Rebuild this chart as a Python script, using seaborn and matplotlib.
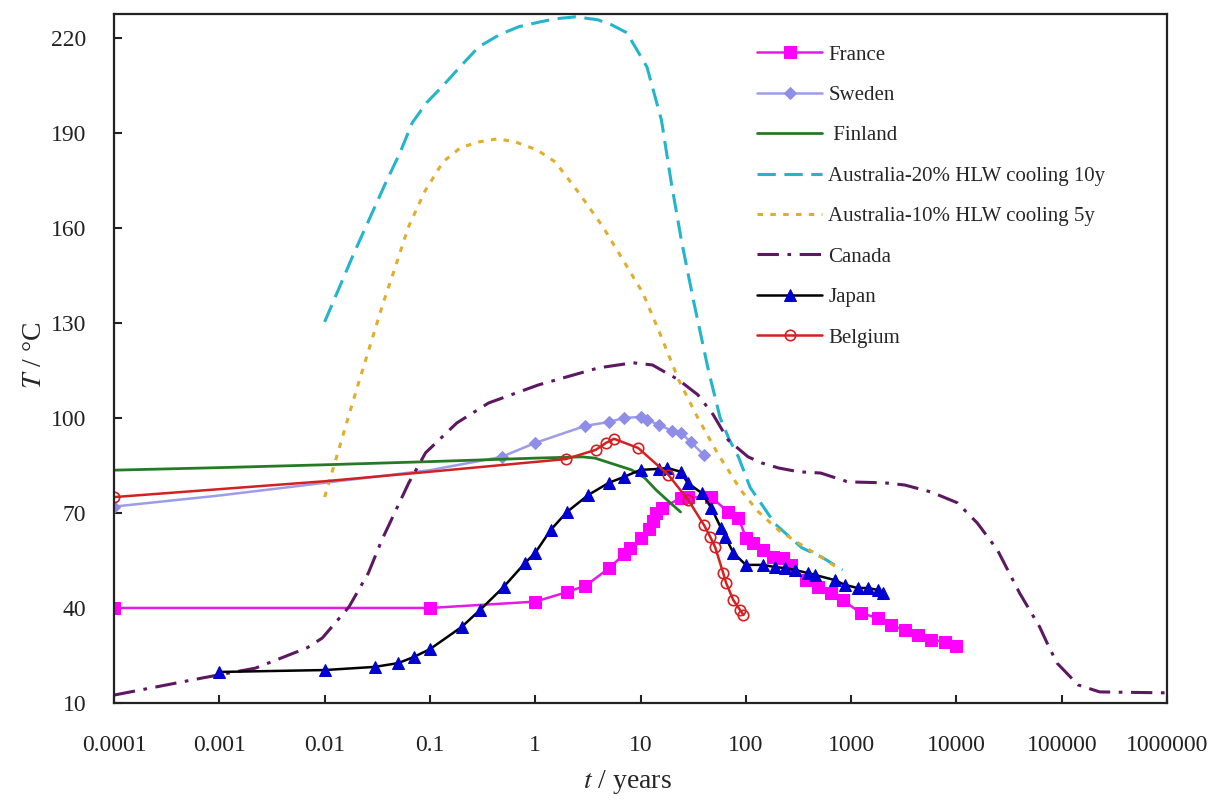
import seaborn as sns
import matplotlib.pyplot as plt
from matplotlib.ticker import NullLocator

# values: t in years, T in deg C
t_france = [1e-4, 0.1, 1, 2, 3, 5, 7, 8, 10, 12, 13, 14, 16, 24, 28, 47, 68, 85, 101, 117,
            146, 182, 226, 269, 372, 485, 645, 832, 1230, 1790, 2380, 3240, 4290, 5700, 7760, 10000]
T_france = [40, 40, 42, 45, 47, 52.5, 57, 59, 62, 65, 67.5, 70, 71.5, 74.7, 75, 75, 70.3, 68.4, 62, 60.5,
            58.3, 56, 55.8, 53.6, 48.8, 46.6, 44.7, 42.5, 38.4, 36.8, 34.6, 33, 31.5, 30, 29.3, 28]

t_sweden = [1e-4, 0.001, 0.01, 0.1, 0.48, 1, 3, 5, 7, 10, 11.5, 15, 20, 24, 30, 40]
T_sweden = [72, 75.5, 79.5, 83.5, 87.7, 92.1, 97.5, 98.7, 100, 100.3, 99.4, 97.8, 95.9, 95.3, 92.4, 88.3]

t_finland = [1e-4, 0.001, 0.01, 0.1, 1, 2.8, 3.7, 5.8, 8.2, 11, 14, 18, 24]
T_finland = [83.5, 84.3, 85.2, 86.2, 87.3, 87.7, 87.3, 85.2, 83.6, 81, 77.3, 74, 70.3]

t_aus20 = [0.01, 0.0115, 0.019, 0.038, 0.052, 0.068, 0.093, 0.13, 0.193, 0.29, 0.46, 0.7, 1.11, 1.57,
           2.4, 3.9, 5.3, 7.4, 8.9, 11.5, 15.8, 19.6, 24.4, 31.7, 44, 57, 70, 85, 110, 190, 340, 530, 830]
T_aus20 = [130.3, 135, 152, 174.2, 183.7, 193.2, 199.5, 204.5, 210.8, 217.1, 221, 223.5, 225, 226,
           226.6, 225.7, 224.1, 221.6, 217.1, 210.8, 194, 174.2, 156.2, 137.3, 115.2, 100, 93, 87.7, 78,
           66.5, 59, 56, 52]

t_aus10 = [0.01, 0.013, 0.0165, 0.021, 0.036, 0.047, 0.062, 0.089, 0.133, 0.195, 0.29, 0.44, 0.65,
           1.04, 1.55, 2.6, 4.4, 6.8, 10.5, 14.8, 23, 35, 55, 71, 89, 132, 204, 316, 515, 800]
T_aus10 = [75, 87.7, 99.4, 111, 136.3, 147.7, 160, 171.4, 180.8, 185.3, 187.1, 188.1, 187.1,
           184.6, 180.8, 171, 160.3, 149.9, 139.5, 127.8, 112, 100, 88.3, 82.6, 77.3, 70.3, 64.6, 60.5, 56.1, 52]

t_canada = [1e-4, 2.2e-4, 6.9e-4, 2.2e-3, 6.8e-3, 9.5e-3, 0.017, 0.026, 0.035, 0.063, 0.091, 0.18, 0.36,
            1.07, 4.0, 8.5, 13, 23, 35, 49, 68, 105, 141, 204, 316, 513, 933, 2090, 3240, 5750,
            10200, 15800, 24500, 39800, 61700, 74100, 90200, 143000, 229000, 1e6]
T_canada = [12.5, 14.7, 17.9, 21, 27.4, 30.5, 40.3, 51, 61.5, 79.5, 89, 98.4, 104.7,
            110.4, 115.8, 117.4, 116.7, 112, 107.3, 101, 93, 87.7, 85.8, 84.2, 83, 82.6, 79.8, 79.5, 78.8, 76.6,
            73.2, 66.8, 58.3, 44.7, 34, 28.3, 22.6, 15.7, 13.5, 13.2]

t_japan = [0.001, 0.01, 0.03, 0.05, 0.07, 0.1, 0.2, 0.3, 0.5, 0.8, 1, 1.4, 2, 3.2, 5, 7, 10, 15, 18, 24,
           28, 38, 47, 58, 64, 76, 100, 146, 190, 236, 293, 390, 457, 700, 870, 1150, 1440, 1790, 2000]
T_japan = [19.8, 20.4, 21.4, 22.6, 24.5, 27, 34, 39.4, 46.6, 54.2, 57.4, 64.6, 70.3, 75.7, 79.5, 81.4, 83.6, 83.9, 84.2, 83,
           79.5, 76.3, 71.6, 65.3, 62.4, 57.4, 53.6, 53.6, 52.9, 52.6, 52, 51, 50.4, 48.8, 47.3, 46.3, 46.3, 45.7, 44.7]

t_belgium = [1e-4, 0.001, 0.01, 0.1, 1.95, 3.75, 4.7, 5.6, 9.5, 18.4, 28.5, 40, 46, 51, 61, 65, 76, 88, 95]
T_belgium = [75, 77.5, 80, 83, 87, 89.9, 92.1, 93.4, 90.5, 82, 74, 66.2, 62.4, 59.3, 51, 47.9, 42.5, 39.4, 37.8]

x_ticks = [1e-4, 1e-3, 1e-2, 1e-1, 1, 10, 100, 1000, 10000, 100000, 1000000]
x_labels = ['0.0001', '0.001', '0.01', '0.1', '1', '10', '100', '1000', '10000', '100000', '1000000']
y_ticks = [10, 40, 70, 100, 130, 160, 190, 220]

sns.set_style("ticks")
plt.rcParams['font.family'] = ['Liberation Serif', 'DejaVu Serif']
plt.rcParams['mathtext.fontset'] = 'stix'

fig = plt.figure(figsize=(12.16, 8), dpi=100)
ax = fig.add_axes([0.09375, 0.12125, 0.866, 0.86125])
ax.set_xscale('log')


def draw(t, T, **kw):
    sns.lineplot(x=t, y=T, ax=ax, sort=False, estimator=None, **kw)


draw(t_france, T_france, color='#E61AE6', lw=1.8, marker='s', ms=8,
     mfc='#FF00FF', mec='#FF00FF', label='France')
draw(t_sweden, T_sweden, color='#9C9CEB', lw=1.8, marker='D', ms=6.5, mfc='#8E8EE8', mec='#8E8EE8',
     markevery=[0] + list(range(4, len(t_sweden))), label='Sweden')
draw(t_finland, T_finland, color='#267A26', lw=2, label=' Finland')
draw(t_aus20, T_aus20, color='#22B5CC', lw=2.2, linestyle=(0, (6, 2.8)),
     label='Australia-20% HLW cooling 10y')
draw(t_aus10, T_aus10, color='#E0AE2E', lw=2.2, linestyle=(0, (1.8, 2.4)),
     label='Australia-10% HLW cooling 5y')
draw(t_canada, T_canada, color='#5C1860', lw=2.2, linestyle=(0, (7, 2.8, 1.2, 2.8)), label='Canada')
draw(t_japan, T_japan, color='black', lw=1.8, marker='^', ms=9, mfc='#0000D0', mec='#0000D0', label='Japan')
draw(t_belgium, T_belgium, color='#D42020', lw=1.8, marker='o', ms=7.5, mfc='none', mec='#D42020', mew=1.2,
     markevery=[0] + list(range(4, len(t_belgium))), label='Belgium')

ax.set_xlim(1e-4, 1e6)
ax.set_ylim(10, 227.5)
ax.set_xticks(x_ticks)
ax.set_xticklabels(x_labels)
ax.xaxis.set_minor_locator(NullLocator())
ax.set_yticks(y_ticks)
ax.tick_params(axis='both', direction='in', length=6, width=1.5, labelsize=17, colors='#222222')
ax.tick_params(axis='x', pad=23)
ax.tick_params(axis='y', pad=20)
for s in ax.spines.values():
    s.set_visible(True)
    s.set_linewidth(1.6)
    s.set_color('#222222')

ax.set_xlabel('$t$ / years', fontsize=20)
ax.set_ylabel('$T$ / °C', fontsize=20)
ax.xaxis.set_label_coords(0.488, -0.094)
ax.yaxis.set_label_coords(-0.064, 0.505)

leg = ax.legend(loc='upper left', bbox_to_anchor=(0.611, 0.955), frameon=False, fontsize=15,
                handlelength=3.1, handletextpad=0.3, labelspacing=1.0, borderpad=0, borderaxespad=0)
for line in leg.get_lines():
    line.set_markevery([1])

fig.savefig('out.png', dpi=100)
